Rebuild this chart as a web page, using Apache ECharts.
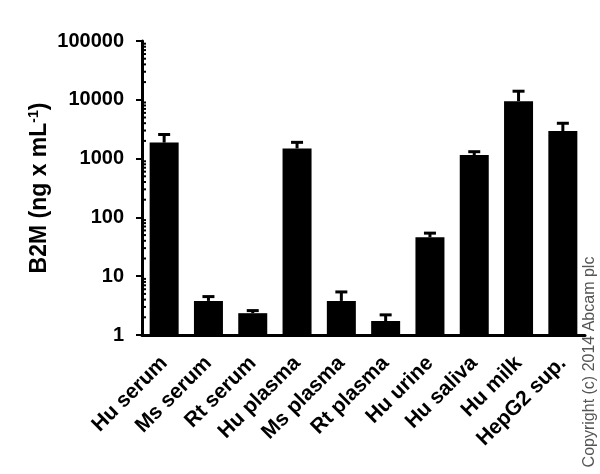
<!DOCTYPE html>
<html><head><meta charset="utf-8">
<script src="https://cdn.jsdelivr.net/npm/echarts@6/dist/echarts.min.js"></script>
<style>html,body{margin:0;padding:0;background:#fff}#c{width:600px;height:474px}</style>
</head><body><div id="c"></div>
<script>
const categories = ['Hu serum','Ms serum','Rt serum','Hu plasma','Ms plasma','Rt plasma','Hu urine','Hu saliva','Hu milk','HepG2 sup.'];
const means = [1870, 3.8, 2.35, 1490, 3.8, 1.73, 46, 1150, 9460, 2950];
const upper = [2570, 4.5, 2.6, 1890, 5.4, 2.2, 54, 1310, 14000, 3990];
const yTicks = [1, 10, 100, 1000, 10000, 100000];
const minorTicks = [];
for (let d = 0; d < 5; d++) for (let k = 2; k <= 9; k++) minorTicks.push(k * Math.pow(10, d));

const chart = echarts.init(document.getElementById('c'), null, {renderer: 'canvas'});
const font = '"Liberation Sans", Arial, sans-serif';
chart.setOption({
  animation: false,
  grid: {left: 142, right: 15, top: 41, bottom: 139, containLabel: false, outerBoundsMode: 'none'},
  xAxis: {
    type: 'category', data: categories,
    axisLine: {lineStyle: {color: '#000', width: 3}},
    axisTick: {alignWithLabel: true, length: 8, lineStyle: {color: '#000', width: 2}},
    axisLabel: {rotate: 45, color: '#000', fontWeight: 'bold', fontSize: 21, fontFamily: font, margin: 25, interval: 0}
  },
  yAxis: {
    type: 'log', logBase: 10, min: 1, max: 100000,
    axisLine: {show: true, lineStyle: {color: '#000', width: 3}},
    axisTick: {show: true, length: 6, lineStyle: {color: '#000', width: 2}},
    splitLine: {show: false},
    axisLabel: {color: '#000', fontWeight: 'bold', fontSize: 20, fontFamily: font, margin: 18,
      formatter: v => yTicks.indexOf(Math.round(v)) >= 0 ? String(Math.round(v)) : ''},
    name: '{a|B2M (ng x mL}{s|-1}{a|)}',
    nameLocation: 'middle', nameGap: 89, nameRotate: 90, nameMoveOverlap: false,
    nameTextStyle: {rich: {
      a: {fontSize: 23, fontWeight: 'bold', fontFamily: font, color: '#000'},
      s: {fontSize: 14, fontWeight: 'bold', fontFamily: font, color: '#000', padding: [0, 0, 12, 0]}
    }}
  },
  series: [
    {type: 'bar', data: means, barWidth: 29, itemStyle: {color: '#000'}},
    {type: 'custom', data: categories.map((c, i) => [i, means[i], upper[i]]),
     renderItem: function (params, api) {
       const p0 = api.coord([api.value(0), api.value(1)]);
       const p1 = api.coord([api.value(0), api.value(2)]);
       const cap = 12;
       return {type: 'group', children: [
         {type: 'line', shape: {x1: p0[0], y1: p0[1], x2: p1[0], y2: p1[1]}, style: {stroke: '#000', lineWidth: 3}},
         {type: 'line', shape: {x1: p1[0] - cap / 2, y1: p1[1], x2: p1[0] + cap / 2, y2: p1[1]}, style: {stroke: '#000', lineWidth: 3}}
       ]};
     }, z: 3},
    {type: 'custom', data: minorTicks.map(v => [0, v]),
     renderItem: function (params, api) {
       const p = api.coord([0, api.value(1)]);
       const x0 = params.coordSys.x;
       return {type: 'line', shape: {x1: x0, y1: p[1], x2: x0 + 4, y2: p[1]}, style: {stroke: '#000', lineWidth: 2}};
     }, z: 4}
  ],
  graphic: [{
    type: 'text', x: 590, y: 362, rotation: Math.PI / 2,
    style: {text: 'Copyright (c) 2014 Abcam plc', font: '16px "Liberation Sans", Arial, sans-serif', fill: '#555',
      textAlign: 'center', textVerticalAlign: 'middle'}
  }]
});
</script></body></html>
